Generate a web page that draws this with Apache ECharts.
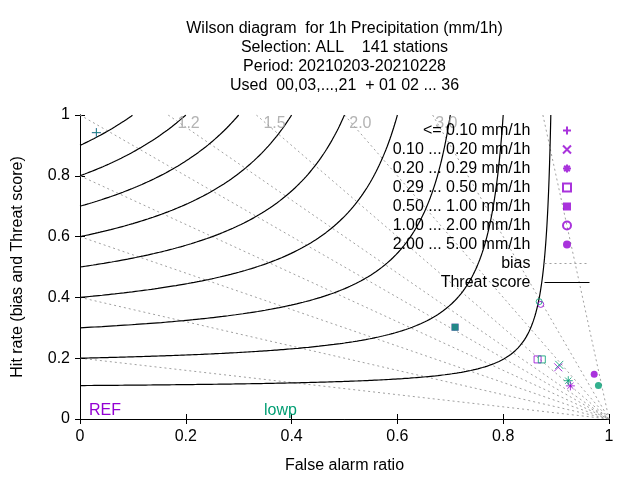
<!DOCTYPE html>
<html>
<head>
<meta charset="utf-8">
<script src="https://cdn.jsdelivr.net/npm/echarts@6/dist/echarts.min.js"></script>
<style>
  html, body { margin: 0; padding: 0; background: #fff; }
  #chart { width: 640px; height: 480px; }
</style>
</head>
<body>
<div id="chart"></div>
<script>
// thresholds (legend) and the two verification runs
var thresholds = [
    '<= 0.10 mm/1h',
    '0.10 ... 0.20 mm/1h',
    '0.20 ... 0.29 mm/1h',
    '0.29 ... 0.50 mm/1h',
    '0.50 ... 1.00 mm/1h',
    '1.00 ... 2.00 mm/1h',
    '2.00 ... 5.00 mm/1h'
];
var refFar = [0.031, 0.904, 0.927, 0.865, 0.709, 0.871, 0.972];
var refPod = [0.942, 0.170, 0.109, 0.196, 0.302, 0.377, 0.147];
var lowpFar = [0.031, 0.906, 0.923, 0.873, 0.709, 0.868, 0.980];
var lowpPod = [0.942, 0.178, 0.126, 0.196, 0.302, 0.386, 0.110];

// isolines
var biasLevels = [0.2, 0.4, 0.6, 0.8, 1.0, 1.2, 1.5, 2.0, 3.0, 8.0];
var tsLevels = [0.11, 0.2, 0.3, 0.4, 0.5, 0.6, 0.7, 0.8, 0.9];

var xTicks = [0, 0.2, 0.4, 0.6, 0.8, 1];
var yTicks = [0, 0.2, 0.4, 0.6, 0.8, 1];

var titleLines = [
    'Wilson diagram  for 1h Precipitation (mm/1h)',
    'Selection: ALL    141 stations',
    'Period: 20210203-20210228',
    'Used  00,03,...,21  + 01 02 ... 36'
];

var PURPLE = '#9400d3';
var GREEN = '#009e73';
var FONT = 'Liberation Sans';

var SQUARE = 'path://M0,0L10,0L10,10L0,10Z';

// gnuplot point types 1..7
var symbols = [
    { symbol: 'path://M0,5L10,5M5,0L5,10', size: 9, stroke: true },
    { symbol: 'path://M0,0L10,10M0,10L10,0', size: 8, stroke: true },
    { symbol: 'path://M0,5L10,5M5,0L5,10M1.5,1.5L8.5,8.5M1.5,8.5L8.5,1.5', size: 9, stroke: true },
    { symbol: SQUARE, size: 7, stroke: true },
    { symbol: SQUARE, size: 7, stroke: false },
    { symbol: 'circle', size: 6, stroke: true },
    { symbol: 'circle', size: 7, stroke: false }
];

function tsCurve(t) {
    // POD/FAR pairs with constant threat score t
    var pts = [];
    var n = 200;
    for (var i = 0; i <= n; i++) {
        var f = (1 - t) * i / n;
        pts.push([f, 1 / (1 / t + 1 - 1 / (1 - f))]);
        var p = t + (1 - t) * i / n;
        pts.push([1 - 1 / (1 / t + 1 - 1 / p), p]);
    }
    pts.sort(function (a, b) { return a[0] - b[0]; });
    return pts;
}

function biasLine(b) {
    if (b <= 1) {
        return [[0, b], [1, 0]];
    }
    return [[1 - 1 / b, 1], [1, 0]];
}

var series = [];

biasLevels.forEach(function (b) {
    series.push({
        name: 'bias',
        type: 'line',
        data: biasLine(b),
        symbol: 'none',
        silent: true,
        z: 1,
        itemStyle: { color: 'transparent' },
        lineStyle: { color: '#a0a0a0', width: 1, type: [2, 3] }
    });
});

tsLevels.forEach(function (t) {
    series.push({
        name: 'Threat score',
        type: 'line',
        data: tsCurve(t),
        symbol: 'none',
        silent: true,
        z: 2,
        itemStyle: { color: 'transparent' },
        lineStyle: { color: '#000', width: 1.2 }
    });
});

// bias labels along the top edge
var biasLabels = biasLevels.filter(function (b) { return b > 1 && b < 5; }).map(function (b) {
    return [1 - 0.974 / b, 0.974, b.toFixed(1)];
});
series.push({
    name: 'biasLabels',
    type: 'scatter',
    data: biasLabels,
    symbolSize: 0,
    silent: true,
    z: 3,
    label: {
        show: true,
        position: 'inside',
        offset: [9, 1],
        formatter: function (p) { return p.data[2]; },
        color: '#a0a0a0',
        fontSize: 16,
        fontFamily: FONT
    }
});

function pointSeries(name, far, pod, color, z) {
    return thresholds.map(function (th, i) {
        var s = symbols[i];
        return {
            name: name === 'REF' ? th : th + ' lowp',
            type: 'scatter',
            data: [[far[i], pod[i]]],
            symbol: s.symbol,
            symbolSize: s.size,
            symbolKeepAspect: true,
            z: z,
            itemStyle: s.stroke
                ? { color: 'transparent', borderColor: color, borderWidth: 1 }
                : { color: color },
            emphasis: { disabled: true }
        };
    });
}

series = series.concat(pointSeries('REF', refFar, refPod, PURPLE, 5));
series = series.concat(pointSeries('lowp', lowpFar, lowpPod, GREEN, 6));

var legendData = thresholds.map(function (th, i) {
    return { name: th, icon: symbols[i].symbol };
});
legendData.push({ name: 'bias', itemStyle: { opacity: 0 } });
legendData.push({ name: 'Threat score', itemStyle: { opacity: 0 } });

var axisCommon = {
    type: 'value',
    min: 0,
    max: 1,
    interval: 0.2,
    splitLine: { show: false },
    axisLine: { show: true, lineStyle: { color: '#000', width: 1 } },
    axisTick: { show: true, inside: true, length: 5, lineStyle: { color: '#000' } }
};

var chart = echarts.init(document.getElementById('chart'));
chart.setOption({
    animation: false,
    backgroundColor: '#fff',
    textStyle: { fontFamily: FONT },
    title: [
        {
            text: titleLines.join('\n'),
            left: 344.5,
            top: 19,
            padding: 0,
            textAlign: 'center',
            textStyle: { fontSize: 16, fontWeight: 'normal', lineHeight: 19, color: '#000', fontFamily: FONT }
        },
        {
            text: 'REF',
            left: 89,
            top: 402,
            padding: 0,
            textStyle: { fontSize: 16, fontWeight: 'normal', lineHeight: 18, color: PURPLE, fontFamily: FONT }
        },
        {
            text: 'lowp',
            left: 264,
            top: 402,
            padding: 0,
            textStyle: { fontSize: 16, fontWeight: 'normal', lineHeight: 18, color: GREEN, fontFamily: FONT }
        }
    ],
    legend: {
        data: legendData,
        orient: 'vertical',
        align: 'right',
        right: 50,
        top: 122.5,
        padding: 0,
        itemWidth: 45,
        itemHeight: 8,
        itemGap: 3,
        selectedMode: false,
        lineStyle: { width: 1 },
        textStyle: { fontSize: 16, lineHeight: 16, color: '#000', fontFamily: FONT, padding: [0, 9, 0, 0] }
    },
    grid: { left: 80, right: 31, top: 115, bottom: 61 },
    xAxis: [
        Object.assign({}, axisCommon, {
            position: 'bottom',
            name: 'False alarm ratio',
            nameLocation: 'middle',
            nameGap: 39,
            nameTextStyle: { fontSize: 16, color: '#000', fontFamily: FONT },
            axisLabel: {
                fontSize: 16, color: '#000', margin: 10, fontFamily: FONT,
                customValues: xTicks
            }
        }),
        Object.assign({}, axisCommon, { position: 'top', axisLabel: { show: false } })
    ],
    yAxis: [
        Object.assign({}, axisCommon, {
            position: 'left',
            name: 'Hit rate (bias and Threat score)',
            nameLocation: 'middle',
            nameGap: 54,
            nameTextStyle: { fontSize: 16, color: '#000', fontFamily: FONT },
            axisLabel: {
                fontSize: 16, color: '#000', margin: 10, fontFamily: FONT,
                customValues: yTicks
            }
        }),
        Object.assign({}, axisCommon, { position: 'right', axisLabel: { show: false } })
    ],
    series: series
});
</script>
</body>
</html>
